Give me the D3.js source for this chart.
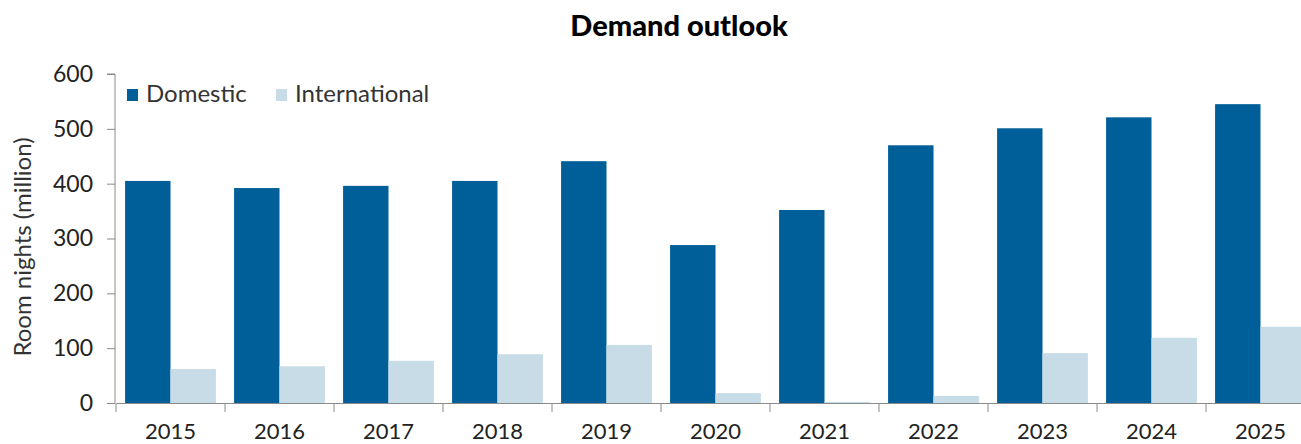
<!DOCTYPE html>
<html>
<head>
<meta charset="utf-8">
<script src="https://cdn.jsdelivr.net/npm/d3@7"></script>
<style>
  body { margin: 0; background: #fff; }
  svg { display: block; font-family: Lato, "Open Sans", sans-serif; }
</style>
</head>
<body>
<svg id="chart" width="1301" height="444"></svg>
<script>
// chart data
const years = ['2015', '2016', '2017', '2018', '2019', '2020', '2021', '2022', '2023', '2024', '2025'];
const seriesNames = ['Domestic', 'International'];
const domestic = [405, 392, 396, 405, 441, 288, 352, 470, 501, 521, 545];
const international = [62, 67, 77, 89, 106, 18, 2, 13, 91, 119, 139];
const yTicks = [0, 100, 200, 300, 400, 500, 600];

const colors = { Domestic: '#005f99', International: '#c8dce8' };

const svg = d3.select('#chart');

// layout
const plotLeft = 116, plotRight = 1315, plotTop = 74, plotBottom = 403;

// scales
const x0 = d3.scaleBand().domain(years).range([plotLeft, plotRight]).padding(0);
const x1 = d3.scaleBand().domain(seriesNames).range([0, x0.bandwidth()]).paddingInner(0).paddingOuter(0.2);
const y = d3.scaleLinear().domain([0, 600]).range([plotBottom, plotTop]);

const rows = years.map((yr, i) => ({ year: yr, Domestic: domestic[i], International: international[i] }));

// bars
const groups = svg.append('g')
  .selectAll('g')
  .data(rows)
  .enter()
  .append('g')
  .attr('transform', d => `translate(${x0(d.year)},0)`);

groups.selectAll('rect')
  .data(d => seriesNames.map(s => ({ key: s, value: d[s] })))
  .enter()
  .append('rect')
  .attr('x', d => x1(d.key))
  .attr('y', d => y(d.value))
  .attr('width', x1.bandwidth())
  .attr('height', d => y(0) - y(d.value))
  .attr('fill', d => colors[d.key]);

// y axis
const yAxis = svg.append('g')
  .attr('transform', `translate(${plotLeft - 1},0)`)
  .call(d3.axisLeft(y).tickValues(yTicks).tickSize(8).tickPadding(14));
yAxis.select('.domain').attr('stroke', '#8a8a8a').attr('d', `M-8,${y(600)}H0V${y(0)}`);
yAxis.selectAll('.tick line').attr('stroke', '#8a8a8a');
yAxis.selectAll('.tick text').attr('font-size', 23).attr('fill', '#222').attr('font-family', 'Lato, sans-serif');

// x axis
const xAxis = svg.append('g')
  .attr('transform', `translate(0,${plotBottom})`)
  .call(d3.axisBottom(x0).tickSize(0).tickPadding(20));
xAxis.select('.domain').attr('stroke', '#8a8a8a');
xAxis.selectAll('.tick text').attr('font-size', 22).attr('fill', '#222').attr('font-family', 'Lato, sans-serif');

// category separators
svg.append('g')
  .selectAll('line')
  .data(years)
  .enter()
  .append('line')
  .attr('x1', d => x0(d))
  .attr('x2', d => x0(d))
  .attr('y1', plotBottom)
  .attr('y2', plotBottom + 9)
  .attr('stroke', '#8a8a8a');

// y axis title
svg.append('text')
  .attr('transform', `translate(31,247) rotate(-90)`)
  .attr('text-anchor', 'middle')
  .attr('font-size', 24)
  .attr('fill', '#333')
  .text('Room nights (million)');

// title
svg.append('text')
  .attr('x', 679)
  .attr('y', 36)
  .attr('text-anchor', 'middle')
  .attr('font-size', 29)
  .attr('font-weight', 900)
  .attr('fill', '#000')
  .text('Demand outlook');

// legend
const legendX = [127, 276];
const legend = svg.append('g')
  .selectAll('g')
  .data(seriesNames)
  .enter()
  .append('g')
  .attr('transform', (d, i) => `translate(${legendX[i]},89)`);
legend.append('rect')
  .attr('width', 11)
  .attr('height', 12)
  .attr('fill', d => colors[d]);
legend.append('text')
  .attr('x', 19)
  .attr('y', 13)
  .attr('font-size', 24)
  .attr('fill', '#333')
  .text(d => d);
</script>
</body>
</html>
